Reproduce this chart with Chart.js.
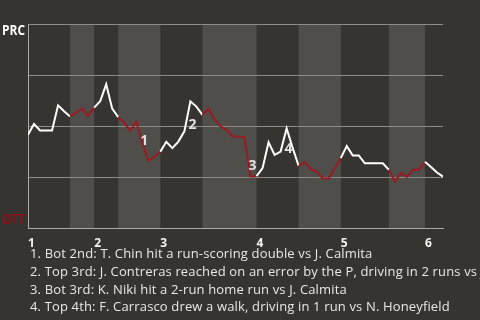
<!DOCTYPE html>
<html>
<head>
<meta charset="utf-8">
<script src="https://cdn.jsdelivr.net/npm/chart.js@4"></script>
<style>
  body { margin: 0; background: #363430; }
  #wrap { position: relative; width: 480px; height: 320px; overflow: hidden; background: #363430; }
  #box { position: absolute; left: 0; top: 0; width: 480px; height: 250px; }
  #notes {
    position: absolute; left: 30px; top: 245.1px; width: 470px;
    font: 13px "Open Sans", sans-serif; line-height: 17.7px; letter-spacing: 0.15px;
    color: #e8e8e8; white-space: nowrap;
  }
</style>
</head>
<body>
<div id="wrap">
  <div id="box"><canvas id="chartCanvas"></canvas></div>
  <div id="notes"></div>
</div>
<script>
// win probability for PRC after each play (0 = OTT, 100 = PRC)
const winProb = [
  45.8, 51.1, 47.9, 47.9, 47.9, 60.2, 57.3, 54.8, 56.6, 58.6,
  55.1, 59.1, 62.2, 70.5, 58.6, 54.5, 51.7, 47.8, 52.4, 41.9,
  33.1, 35.0, 37.6, 42.4, 39.3, 42.5, 47.5, 62.2, 59.6, 55.6,
  58.6, 53.4, 49.9, 48.3, 45.1, 45.0, 44.6, 25.4, 25.6, 29.5,
  42.2, 36.0, 37.6, 48.9, 39.5, 30.6, 32.5, 29.0, 27.8, 24.5,
  24.5, 29.5, 34.4, 40.3, 35.7, 35.7, 31.9, 31.9, 31.9, 31.9,
  28.7, 22.9, 27.1, 25.2, 28.7, 28.7, 32.7, 30.1, 27.4, 25.4
];

// play index where each half inning starts (last value = end of game)
const halfInnings = [0, 7, 11, 15, 22, 29, 38, 45, 52, 60, 66, 69];

const inningStarts = [0, 11, 22, 38, 52, 66];
const inningLabels = ["1", "2", "3", "4", "5", "6"];

const teamLabels = ["PRC", "OTT"];

// key plays: index of the play that ends the segment
const noteIndex = [19, 27, 37, 43];
const notes = [
  "1. Bot 2nd: T. Chin hit a run-scoring double vs J. Calmita",
  "2. Top 3rd: J. Contreras reached on an error by the P, driving in 2 runs vs J. Calmita",
  "3. Bot 3rd: K. Niki hit a 2-run home run vs J. Calmita",
  "4. Top 4th: F. Carrasco drew a walk, driving in 1 run vs N. Honeyfield"
];

document.getElementById("notes").innerHTML = notes.map(n => "<div>" + n + "</div>").join("");

Chart.defaults.font.family = "'Open Sans', sans-serif";

// half inning a play belongs to (even = top, odd = bottom)
function halfOf(i) {
  let k = 0;
  for (let j = 0; j < halfInnings.length - 1; j++) {
    if (i >= halfInnings[j]) k = j;
  }
  return k;
}

const gameBands = {
  id: "gameBands",
  beforeDraw(chart) {
    const { ctx, chartArea, scales } = chart;
    ctx.save();
    ctx.fillStyle = "#363430";
    ctx.fillRect(0, 0, chart.width, chart.height);
    ctx.fillStyle = "#4f4e4b";
    for (let k = 1; k < halfInnings.length - 1; k += 2) {
      const x0 = scales.x.getPixelForValue(halfInnings[k]);
      const x1 = scales.x.getPixelForValue(halfInnings[k + 1]);
      ctx.fillRect(x0, chartArea.top, x1 - x0, chartArea.bottom - chartArea.top);
    }
    ctx.restore();
  },
  afterDatasetsDraw(chart) {
    const { ctx, chartArea, scales } = chart;
    ctx.save();
    // team names at the ends of the y axis
    ctx.font = "bold 14px 'Open Sans', sans-serif";
    ctx.textAlign = "right";
    ctx.textBaseline = "middle";
    ctx.fillStyle = "#ffffff";
    ctx.fillText(teamLabels[0], chartArea.left - 3, chartArea.top + 7.5, 23);
    ctx.fillStyle = "#8e1016";
    ctx.fillText(teamLabels[1], chartArea.left - 3, chartArea.bottom - 8.5, 23);

    // numbered key plays
    ctx.font = "bold 14px 'Open Sans', sans-serif";
    ctx.textAlign = "left";
    ctx.fillStyle = "#e2e2e2";
    noteIndex.forEach((idx, n) => {
      const xm = scales.x.getPixelForValue(idx - 0.5);
      const ym = scales.y.getPixelForValue((winProb[idx - 1] + winProb[idx]) / 2);
      ctx.fillText(String(n + 1), xm + 1, ym + 9);
    });
    ctx.restore();
  }
};

const ctx = document.getElementById("chartCanvas").getContext("2d");
new Chart(ctx, {
  type: "line",
  data: {
    datasets: [
      {
        data: winProb.map((v, i) => ({ x: i, y: v })),
        borderWidth: 2,
        borderColor: "#ffffff",
        pointRadius: 0,
        tension: 0,
        segment: {
          borderColor: c => (halfOf(c.p0DataIndex) % 2 === 0 ? "#ffffff" : "#9a1a1f"),
        },
      },
    ],
  },
  options: {
    responsive: true,
    maintainAspectRatio: false,
    animation: false,
    layout: { padding: { top: 24, right: 37, left: 0, bottom: 0 } },
    plugins: { legend: { display: false }, tooltip: { enabled: false } },
    scales: {
      x: {
        type: "linear",
        min: 0,
        max: halfInnings[halfInnings.length - 1],
        grid: { display: false },
        border: { display: true, color: "#aaaaaa", width: 1 },
        afterBuildTicks: s => { s.ticks = inningStarts.map(v => ({ value: v })); },
        afterFit: s => { s.height = 21.5; },
        ticks: {
          autoSkip: false,
          maxRotation: 0,
          align: "start",
          padding: 0,
          color: "#f2f2f2",
          font: { size: 12, weight: "bold" },
          callback: v => inningLabels[inningStarts.indexOf(v)],
        },
      },
      y: {
        min: 0,
        max: 100,
        afterFit: s => { s.width = 28; },
        grid: { color: "#8c8c8c", drawTicks: false },
        border: { display: true, color: "#aaaaaa", width: 1 },
        ticks: { display: false, stepSize: 25 },
      },
    },
  },
  plugins: [gameBands],
});
</script>
</body>
</html>
